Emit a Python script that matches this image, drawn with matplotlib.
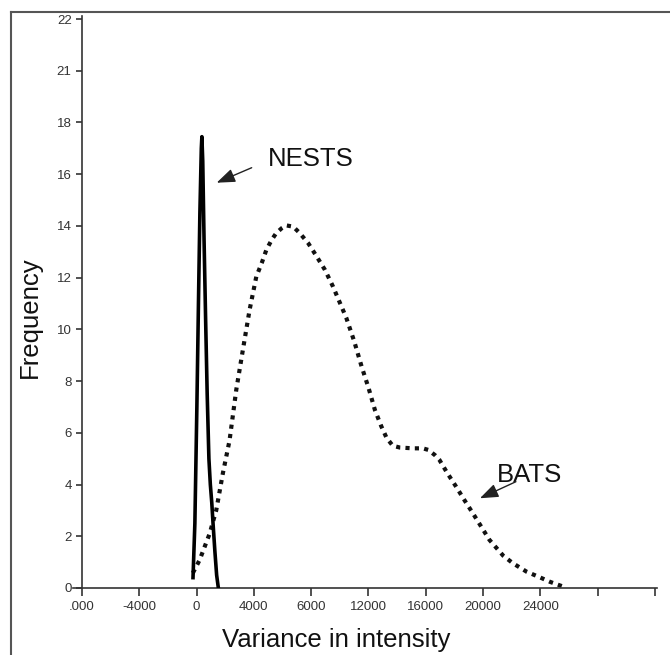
import matplotlib
matplotlib.use("Agg")
import matplotlib.pyplot as plt
from matplotlib.lines import Line2D

plt.rcParams['font.family'] = ['Liberation Sans', 'DejaVu Sans']

# Data
nests_x = [-250, -120, 20, 130, 230, 330, 370, 430, 520, 630, 740, 860, 960, 1060, 1160, 1280, 1400, 1520]
nests_y = [0.4, 2.5, 7.0, 11.0, 14.5, 17.0, 17.45, 16.5, 13.5, 10.4, 7.5, 5.0, 4.0, 3.3, 2.4, 1.4, 0.5, 0.0]

bats_x = [-260, 210, 910, 1370, 1840, 2300, 2770, 3230, 3700, 4170, 4545, 4870, 5243, 5560,
          5941, 6260, 6750, 7190, 7797, 8350, 8963, 9520, 10220, 10450, 11000, 11525,
          12000, 12454, 12900, 13270, 13700, 14200, 15130, 15800, 16175, 16640, 16960,
          17500, 18120, 18700, 19280, 19900, 20450, 21410, 22080, 23045, 23940, 24670, 25570]
bats_y = [0.58, 1.08, 2.1, 3.0, 4.45, 5.7, 7.66, 9.2, 10.75, 12.04, 12.56, 13.07, 13.46, 13.72,
          13.91, 14.02, 13.97, 13.73, 13.33, 12.85, 12.3, 11.66, 10.75, 10.45, 9.55, 8.56,
          7.75, 6.88, 6.25, 5.8, 5.5, 5.43, 5.4, 5.4, 5.34, 5.14, 4.95,
          4.45, 3.92, 3.4, 2.9, 2.35, 1.86, 1.25, 0.96, 0.63, 0.42, 0.24, 0.06]

xtick_pos = [-8000, -4000, 0, 4000, 8000, 12000, 16000, 20000, 24000, 28000, 32000]
xtick_lab = ['.000', '-4000', '0', '4000', '6000', '12000', '16000', '20000', '24000', '', '']
ytick_pos = [0, 2, 4, 6, 8, 10, 12, 14, 16, 18, 20, 22]
ytick_lab = ['0', '2', '4', '6', '8', '10', '12', '14', '16', '18', '21', '22']

fig = plt.figure(figsize=(6.7, 6.55), dpi=100)
ax = fig.add_axes([73/670, 67/655, (657-73)/670, (588-19)/655])

ax.plot(nests_x, nests_y, color='black', lw=2.6, solid_joinstyle='round', zorder=3)
ax.plot(bats_x, bats_y, color='#111111', lw=3.0, linestyle=(0, (1.0, 1.25)), zorder=2)

ax.set_xlim(-8630, 32150)
ax.set_ylim(0, 22)

for s in ['top', 'right']:
    ax.spines[s].set_visible(False)
ax.spines['left'].set_position(('data', -8000))
ax.spines['left'].set_bounds(0, 22.1)
for s in ['left', 'bottom']:
    ax.spines[s].set_color('#333333')
    ax.spines[s].set_linewidth(1.2)

ax.set_xticks(xtick_pos)
ax.set_xticklabels(xtick_lab)
ax.set_yticks(ytick_pos)
ax.set_yticklabels(ytick_lab)
ax.tick_params(axis='x', direction='out', length=6, width=1.2, color='#333333',
               labelsize=9.5, labelcolor='#333333', pad=3)
ax.tick_params(axis='y', direction='out', length=4.5, width=1.2, color='#333333',
               labelsize=9.5, labelcolor='#333333', pad=3)

ax.text(7986, 16.59, 'NESTS', fontsize=18.5, ha='center', va='center', color='#111111')
ax.text(23274, 4.37, 'BATS', fontsize=18.5, ha='center', va='center', color='#111111')
arrow_style = '-|>,head_length=0.8,head_width=0.3'
ax.annotate('', xy=(1403, 15.67), xytext=(3846, 16.25),
            arrowprops=dict(arrowstyle=arrow_style, color='#222222', lw=1.0, mutation_scale=14,
                            shrinkA=0, shrinkB=0))
ax.annotate('', xy=(19784, 3.47), xytext=(22297, 4.11),
            arrowprops=dict(arrowstyle=arrow_style, color='#222222', lw=1.0, mutation_scale=14,
                            shrinkA=0, shrinkB=0))

fig.text(30/670, 1 - 317/655, 'Frequency', rotation=90, fontsize=18.5,
         ha='center', va='center', color='#111111')
fig.text(336/670, 1 - 628/655, 'Variance in intensity', fontsize=18.5,
         ha='center', va='top', color='#111111')

# outer frame (left and top edges)
fig.add_artist(Line2D([11/670, 11/670], [0, 1 - 12/655], transform=fig.transFigure,
                      color='#555555', lw=1.5))
fig.add_artist(Line2D([11/670, 1], [1 - 12/655, 1 - 12/655], transform=fig.transFigure,
                      color='#555555', lw=1.5))

fig.savefig('out.png', dpi=100)
